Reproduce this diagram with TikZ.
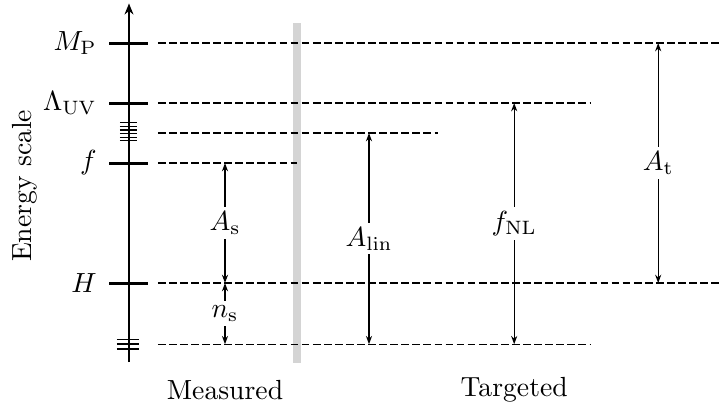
\documentclass[tikz,border=0pt]{standalone}
\usetikzlibrary{arrows.meta}

\tikzset{
  axisline/.style={line width=0.8pt},
  levtick/.style={line width=1.1pt},
  hatch/.style={line width=0.4pt},
  level/.style={line width=0.5pt, dash pattern=on 2.8pt off 1.2pt},
  span/.style={line width=0.45pt, {Stealth[length=3pt,width=2.2pt]}-{Stealth[length=3pt,width=2.2pt]}},
  spanlabel/.style={fill=white, inner sep=1.5pt},
}

\begin{document}
\begin{tikzpicture}[x=0.762cm, y=0.762cm]
\useasboundingbox (-2.15,-0.1) rectangle (9.85,6.717);

% Axis
\coordinate (bot) at (0,0.68);
\coordinate (top) at (0,6.66);
\draw[axisline, -{Stealth[length=4pt,width=3.2pt]}] (bot) -- (top);

% Separator bar
\coordinate (bar1) at (2.8,0.67);
\coordinate (bar2) at (2.8,6.33);
\draw[line width=2.9pt, black!17] (bar1) -- (bar2);

% Level ticks
\draw[levtick] (-0.33,6) -- (0.32,6);
\draw[levtick] (-0.33,5) -- (0.32,5);
\draw[levtick] (-0.33,4) -- (0.32,4);
\draw[levtick] (-0.33,2) -- (0.32,2);
\foreach \y in {4.37,4.43,4.49,4.55,4.61,4.67}
  \draw[hatch] (-0.15,\y) -- (0.13,\y);
\foreach \y in {0.90,0.98,1.06}
  \draw[hatch, line width=0.6pt] (-0.2,\y) -- (0.17,\y);

% Level labels
\node[anchor=east, inner sep=0pt] (MP) at (-0.53,6) {$M_{\mathrm{P}}$};
\node[anchor=east, inner sep=0pt] (LUV) at (-0.53,5) {$\Lambda_{\mathrm{UV}}$};
\node[anchor=east, inner sep=0pt] (F) at (-0.53,4) {$f$};
\node[anchor=east, inner sep=0pt] (H) at (-0.53,2) {$H$};
\node[rotate=90] (escale) at (-1.73,3.62) {Energy scale};

% Dashed levels
\coordinate (mp0) at (0.48,6);   \coordinate (mp1) at (9.85,6);
\coordinate (uv0) at (0.48,5);   \coordinate (uv1) at (7.68,5);
\coordinate (lin0) at (0.48,4.5); \coordinate (lin1) at (5.15,4.5);
\coordinate (f0) at (0.48,4);    \coordinate (f1) at (2.8,4);
\coordinate (h0) at (0.48,2);    \coordinate (h1) at (9.85,2);
\coordinate (b0) at (0.48,0.98); \coordinate (b1) at (7.68,0.98);
\draw[level] (mp0) -- (mp1);
\draw[level] (uv0) -- (uv1);
\draw[level] (lin0) -- (lin1);
\draw[level] (f0) -- (f1);
\draw[level] (h0) -- (h1);
\draw[level] (b0) -- (b1);

% Spans
\coordinate (as1) at (1.6,4);    \coordinate (as2) at (1.6,2);
\coordinate (ns2) at (1.6,0.98);
\coordinate (al1) at (4.0,4.5);  \coordinate (al2) at (4.0,0.98);
\coordinate (fn1) at (6.42,5);   \coordinate (fn2) at (6.42,0.98);
\coordinate (at1) at (8.82,6);   \coordinate (at2) at (8.82,2);
\draw[span] (as1) -- node[spanlabel] (As) {$A_{\mathrm{s}}$} (as2);
\draw[span] (as2) -- node[spanlabel] (ns) {$n_{\mathrm{s}}$} (ns2);
\draw[span] (al1) -- node[spanlabel] (Alin) {$A_{\mathrm{lin}}$} (al2);
\draw[span] (fn1) -- node[spanlabel] (fNL) {$f_{\mathrm{NL}}$} (fn2);
\draw[span] (at1) -- node[spanlabel] (At) {$A_{\mathrm{t}}$} (at2);

\node (meas) at (1.6,0.22) {Measured};
\node (targ) at (6.42,0.22) {Targeted};

\end{tikzpicture}
\end{document}
